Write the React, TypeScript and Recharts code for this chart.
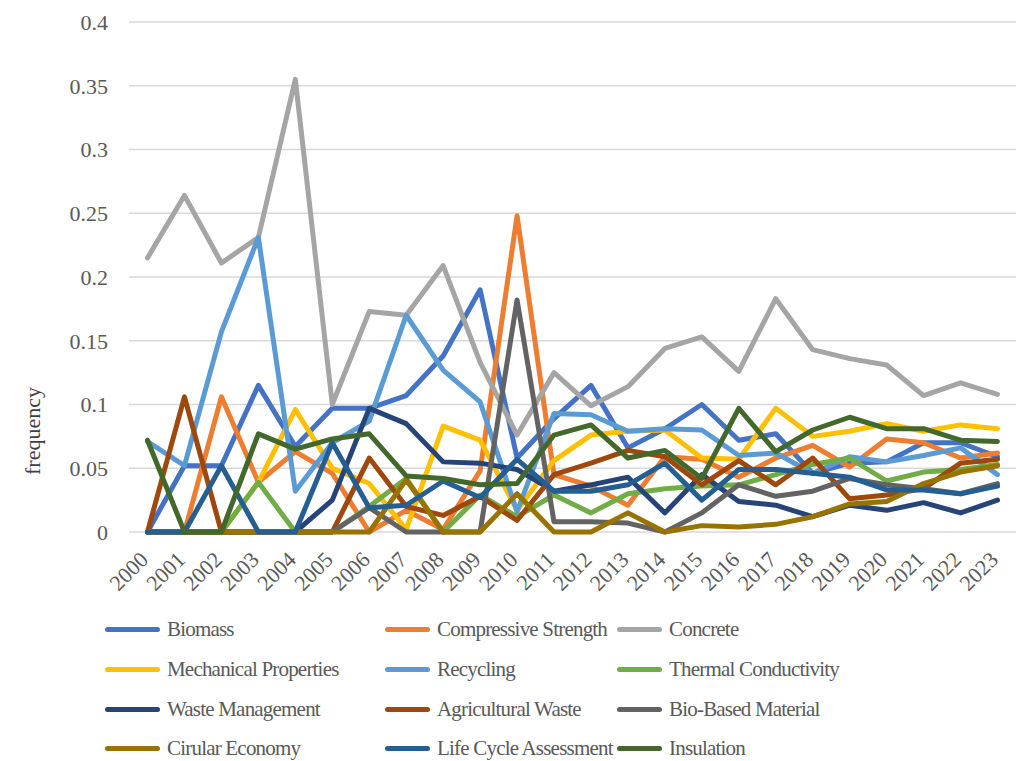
import React from 'react';
import {
    LineChart,
    Line,
    XAxis,
    YAxis,
    CartesianGrid,
    Legend,
} from 'recharts';

const years = [
    '2000', '2001', '2002', '2003', '2004', '2005', '2006', '2007', '2008', '2009', '2010', '2011',
    '2012', '2013', '2014', '2015', '2016', '2017', '2018', '2019', '2020', '2021', '2022', '2023',
];

const biomass = [0, 0.052, 0.052, 0.115, 0.067, 0.097, 0.097, 0.107, 0.138, 0.19, 0.058, 0.089, 0.115, 0.066, 0.081, 0.1, 0.072, 0.077, 0.046, 0.054, 0.055, 0.07, 0.07, 0.059];
const compressiveStrength = [0, 0, 0.106, 0.039, 0.063, 0.046, 0, 0.017, 0.002, 0.048, 0.248, 0.045, 0.036, 0.021, 0.059, 0.057, 0.043, 0.058, 0.068, 0.051, 0.073, 0.07, 0.058, 0.062];
const concrete = [0.215, 0.264, 0.211, 0.231, 0.355, 0.1, 0.173, 0.17, 0.209, 0.133, 0.076, 0.125, 0.099, 0.114, 0.144, 0.153, 0.126, 0.183, 0.143, 0.136, 0.131, 0.107, 0.117, 0.108];
const mechanicalProperties = [0, 0, 0, 0.039, 0.096, 0.05, 0.038, 0.002, 0.083, 0.072, 0.017, 0.056, 0.076, 0.079, 0.08, 0.058, 0.057, 0.097, 0.075, 0.079, 0.085, 0.079, 0.084, 0.081];
const recycling = [0.071, 0.052, 0.157, 0.231, 0.032, 0.07, 0.087, 0.17, 0.127, 0.102, 0.016, 0.093, 0.092, 0.079, 0.081, 0.08, 0.06, 0.062, 0.046, 0.059, 0.055, 0.06, 0.066, 0.045];
const thermalConductivity = [0, 0, 0, 0.039, 0, 0, 0.02, 0.042, 0, 0.029, 0.012, 0.029, 0.015, 0.03, 0.034, 0.036, 0.037, 0.045, 0.053, 0.058, 0.04, 0.047, 0.049, 0.053];
const wasteManagement = [0, 0, 0, 0, 0, 0.025, 0.097, 0.085, 0.055, 0.054, 0.049, 0.032, 0.037, 0.043, 0.015, 0.045, 0.024, 0.021, 0.012, 0.021, 0.017, 0.023, 0.015, 0.025];
const agriculturalWaste = [0, 0.106, 0, 0, 0, 0, 0.058, 0.02, 0.013, 0.028, 0.009, 0.045, 0.054, 0.064, 0.059, 0.037, 0.056, 0.037, 0.058, 0.026, 0.029, 0.034, 0.054, 0.057];
const bioBasedMaterial = [0, 0, 0, 0, 0, 0, 0.019, 0, 0, 0, 0.182, 0.008, 0.008, 0.007, 0, 0.015, 0.037, 0.028, 0.032, 0.042, 0.037, 0.034, 0.03, 0.038];
const circularEconomy = [0, 0, 0, 0, 0, 0, 0, 0.041, 0, 0, 0.03, 0, 0, 0.015, 0, 0.005, 0.004, 0.006, 0.012, 0.022, 0.024, 0.038, 0.047, 0.052];
const lifeCycleAssessment = [0, 0, 0.052, 0, 0, 0.07, 0.019, 0.021, 0.04, 0.027, 0.057, 0.032, 0.032, 0.037, 0.054, 0.025, 0.049, 0.049, 0.046, 0.043, 0.033, 0.033, 0.03, 0.036];
const insulation = [0.072, 0, 0, 0.077, 0.065, 0.073, 0.077, 0.044, 0.042, 0.037, 0.038, 0.076, 0.084, 0.058, 0.064, 0.042, 0.097, 0.063, 0.08, 0.09, 0.081, 0.081, 0.072, 0.071];

const yTicks = [0, 0.05, 0.1, 0.15, 0.2, 0.25, 0.3, 0.35, 0.4];

// legend order = drawing order (3 per row)
const series = [
    { name: 'Biomass', color: '#4472C4', values: biomass },
    { name: 'Compressive Strength', color: '#ED7D31', values: compressiveStrength },
    { name: 'Concrete', color: '#A5A5A5', values: concrete },
    { name: 'Mechanical Properties', color: '#FFC000', values: mechanicalProperties },
    { name: 'Recycling', color: '#5B9BD5', values: recycling },
    { name: 'Thermal Conductivity', color: '#70AD47', values: thermalConductivity },
    { name: 'Waste Management', color: '#264478', values: wasteManagement },
    { name: 'Agricultural Waste', color: '#9E480E', values: agriculturalWaste },
    { name: 'Bio-Based Material', color: '#636363', values: bioBasedMaterial },
    { name: 'Cirular Economy', color: '#997300', values: circularEconomy },
    { name: 'Life Cycle Assessment', color: '#255E91', values: lifeCycleAssessment },
    { name: 'Insulation', color: '#43682B', values: insulation },
];

const data = years.map((year, i) => {
    const row: Record<string, string | number> = { year };
    series.forEach((s) => {
        row[s.name] = s.values[i];
    });
    return row;
});

const FONT = "'Liberation Serif', 'Times New Roman', serif";
const TEXT = '#595959';

const YearTick = (props: any) => {
    const { x, y, payload } = props;
    const ax = x + 2;
    const ay = y + 29;
    return (
        <text
            x={ax}
            y={ay}
            transform={`rotate(-45, ${ax}, ${ay})`}
            textAnchor="end"
            fill={TEXT}
            fontSize={22}
            fontFamily={FONT}
        >
            {payload.value}
        </text>
    );
};

const AxisTitle = (props: any) => {
    const { viewBox } = props;
    const x = viewBox.x + 40;
    const y = viewBox.y + viewBox.height * 0.802;
    return (
        <text
            x={x}
            y={y}
            transform={`rotate(-90, ${x}, ${y})`}
            textAnchor="middle"
            fill="#404040"
            fontSize={22}
            fontFamily={FONT}
        >
            frequency
        </text>
    );
};

const colLine = [55, 45, 45];

// legend keeps series order instead of recharts' sorted payload
const renderLegend = () => (
    <div
        style={{
            display: 'grid',
            gridTemplateColumns: '280px 232px 360px',
            fontFamily: FONT,
            fontSize: 21,
            color: TEXT,
            letterSpacing: -0.8,
        }}
    >
        {series.map((s, i) => (
            <div key={s.name} style={{ display: 'flex', alignItems: 'center', height: 39.7, whiteSpace: 'nowrap' }}>
                <span
                    style={{
                        display: 'inline-block',
                        width: colLine[i % 3],
                        height: 5,
                        borderRadius: 3,
                        background: s.color,
                        marginRight: 7,
                    }}
                />
                <span>{s.name}</span>
            </div>
        ))}
    </div>
);

const App: React.FC = () => {
    return (
        <div style={{ position: 'absolute', left: 0, top: 0, background: '#fff' }}>
            <LineChart
                width={1016}
                height={761}
                data={data}
                margin={{ top: 22, right: 0, left: 0, bottom: 169 }}
            >
                <CartesianGrid vertical={false} stroke="#D9D9D9" strokeWidth={1.5} />
                <XAxis
                    dataKey="year"
                    axisLine={false}
                    tickLine={false}
                    tickSize={0}
                    tickMargin={0}
                    height={60}
                    interval={0}
                    padding={{ left: 18.5, right: 18.5 }}
                    tick={<YearTick />}
                />
                <YAxis
                    domain={[0, 0.4]}
                    ticks={yTicks}
                    width={129}
                    axisLine={false}
                    tickLine={false}
                    tickSize={0}
                    tickMargin={21}
                    tickFormatter={(v: number) => String(Number(v.toFixed(2)))}
                    tick={{ fill: TEXT, fontSize: 22, fontFamily: FONT }}
                    label={<AxisTitle />}
                />
                <Legend
                    layout="horizontal"
                    verticalAlign="middle"
                    align="center"
                    wrapperStyle={{ top: 610, left: 105, width: 911 }}
                    content={renderLegend}
                />
                {series.map((s) => (
                    <Line
                        key={s.name}
                        type="linear"
                        dataKey={s.name}
                        stroke={s.color}
                        strokeWidth={5}
                        strokeLinejoin="round"
                        strokeLinecap="round"
                        dot={false}
                        activeDot={false}
                        isAnimationActive={false}
                    />
                ))}
            </LineChart>
        </div>
    );
};

export default App;
